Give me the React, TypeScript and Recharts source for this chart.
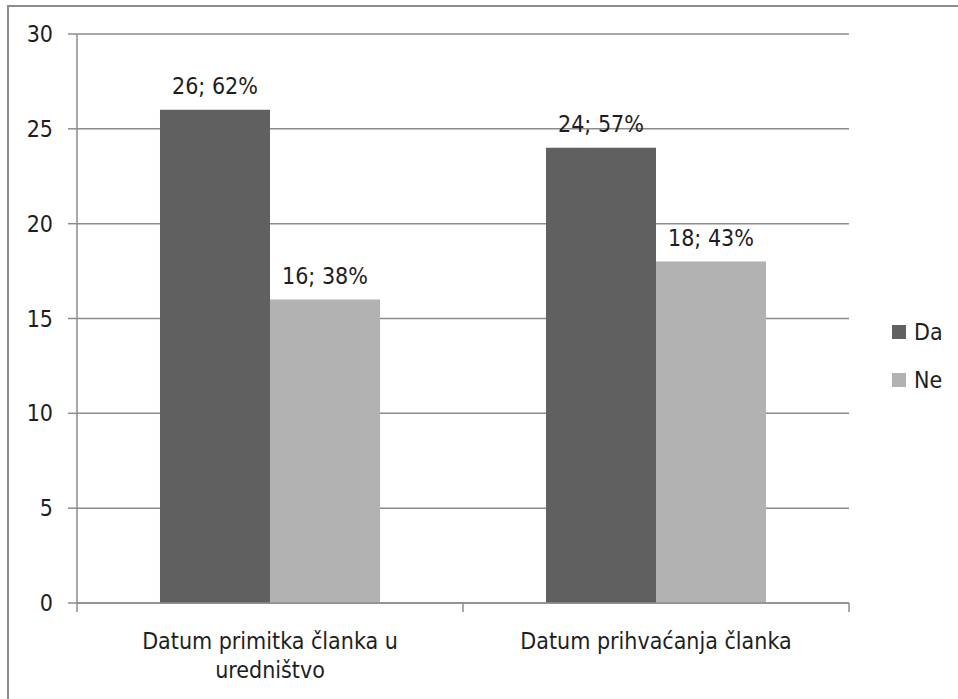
import React from "react";
import {
  BarChart,
  Bar,
  XAxis,
  YAxis,
  CartesianGrid,
  LabelList,
} from "recharts";

const categories = ["Datum primitka članka u\nuredništvo", "Datum prihvaćanja članka"];
const daValues = [26, 24];
const neValues = [16, 18];
const daPercents = [62, 57];
const nePercents = [38, 43];
const yTicks = [0, 5, 10, 15, 20, 25, 30];
const seriesNames = ["Da", "Ne"];

const FONT = "'DejaVu Sans Condensed', 'DejaVu Sans', sans-serif";
const FONT_SIZE = 23;
const TEXT = "#1e1e1e";
const LINE = "#8c8c8c";
const DA_COLOR = "#606060";
const NE_COLOR = "#b2b2b2";

const data = categories.map((name, i) => ({
  name,
  da: daValues[i],
  ne: neValues[i],
  daLabel: `${daValues[i]}; ${daPercents[i]}%`,
  neLabel: `${neValues[i]}; ${nePercents[i]}%`,
}));

const CategoryTick = (props: any) => {
  const { x, y, payload, index, visibleTicksCount } = props;
  const half = payload.offset ?? 193;
  const lines = String(payload.value).split("\n");
  const last = index === (visibleTicksCount ?? categories.length) - 1;
  return (
    <g>
      <line x1={x - half} y1={y} x2={x - half} y2={y + 9} stroke={LINE} strokeWidth={1.5} />
      {last && (
        <line x1={x + half} y1={y} x2={x + half} y2={y + 9} stroke={LINE} strokeWidth={1.5} />
      )}
      {lines.map((line, i) => (
        <text
          key={i}
          x={x}
          y={y + 46 + i * 29}
          textAnchor="middle"
          fontFamily={FONT}
          fontSize={FONT_SIZE}
          fill={TEXT}
        >
          {line}
        </text>
      ))}
    </g>
  );
};

const BarLabel = (props: any) => {
  const { x, y, width, value } = props;
  return (
    <text
      x={x + width / 2}
      y={y - 16}
      textAnchor="middle"
      fontFamily={FONT}
      fontSize={FONT_SIZE}
      fill={TEXT}
    >
      {value}
    </text>
  );
};

const LegendBox = () => (
  <div
    style={{
      position: "absolute",
      left: 892,
      top: 308,
      fontFamily: FONT,
      fontSize: FONT_SIZE,
      color: TEXT,
    }}
  >
    {[DA_COLOR, NE_COLOR].map((color, i) => (
      <div key={seriesNames[i]} style={{ display: "flex", alignItems: "center", height: 48 }}>
        <span
          style={{
            width: 14,
            height: 14,
            background: color,
            marginRight: 8,
            display: "inline-block",
          }}
        />
        <span>{seriesNames[i]}</span>
      </div>
    ))}
  </div>
);

export default function App() {
  return (
    <div
      style={{
        position: "absolute",
        left: 0,
        top: 0,
        width: 958,
        height: 699,
        overflow: "hidden",
        background: "#fff",
      }}
    >
      <div
        style={{
          position: "absolute",
          left: 7,
          top: 5,
          width: 1000,
          height: 1000,
          border: `2px solid ${LINE}`,
        }}
      />
      <div style={{ position: "absolute", left: 0, top: 0 }}>
        <BarChart
          width={958}
          height={699}
          data={data}
          margin={{ top: 34, right: 109, bottom: 6, left: 0 }}
          barCategoryGap="21.5%"
          barGap={0}
        >
          <CartesianGrid vertical={false} stroke={LINE} strokeWidth={1.5} />
          <XAxis
            dataKey="name"
            height={90}
            tickLine={false}
            tickSize={0}
            tickMargin={0}
            axisLine={{ stroke: LINE, strokeWidth: 1.5 }}
            tick={<CategoryTick />}
            interval={0}
          />
          <YAxis
            width={77}
            domain={[0, 30]}
            ticks={yTicks}
            tickSize={9}
            tickMargin={15}
            axisLine={{ stroke: LINE, strokeWidth: 1.5 }}
            tickLine={{ stroke: LINE, strokeWidth: 1.5 }}
            tick={{ fontFamily: FONT, fontSize: FONT_SIZE, fill: TEXT }}
          />
          <Bar dataKey="da" name={seriesNames[0]} fill={DA_COLOR} isAnimationActive={false}>
            <LabelList dataKey="daLabel" content={<BarLabel />} />
          </Bar>
          <Bar dataKey="ne" name={seriesNames[1]} fill={NE_COLOR} isAnimationActive={false}>
            <LabelList dataKey="neLabel" content={<BarLabel />} />
          </Bar>
        </BarChart>
      </div>
      <LegendBox />
    </div>
  );
}
